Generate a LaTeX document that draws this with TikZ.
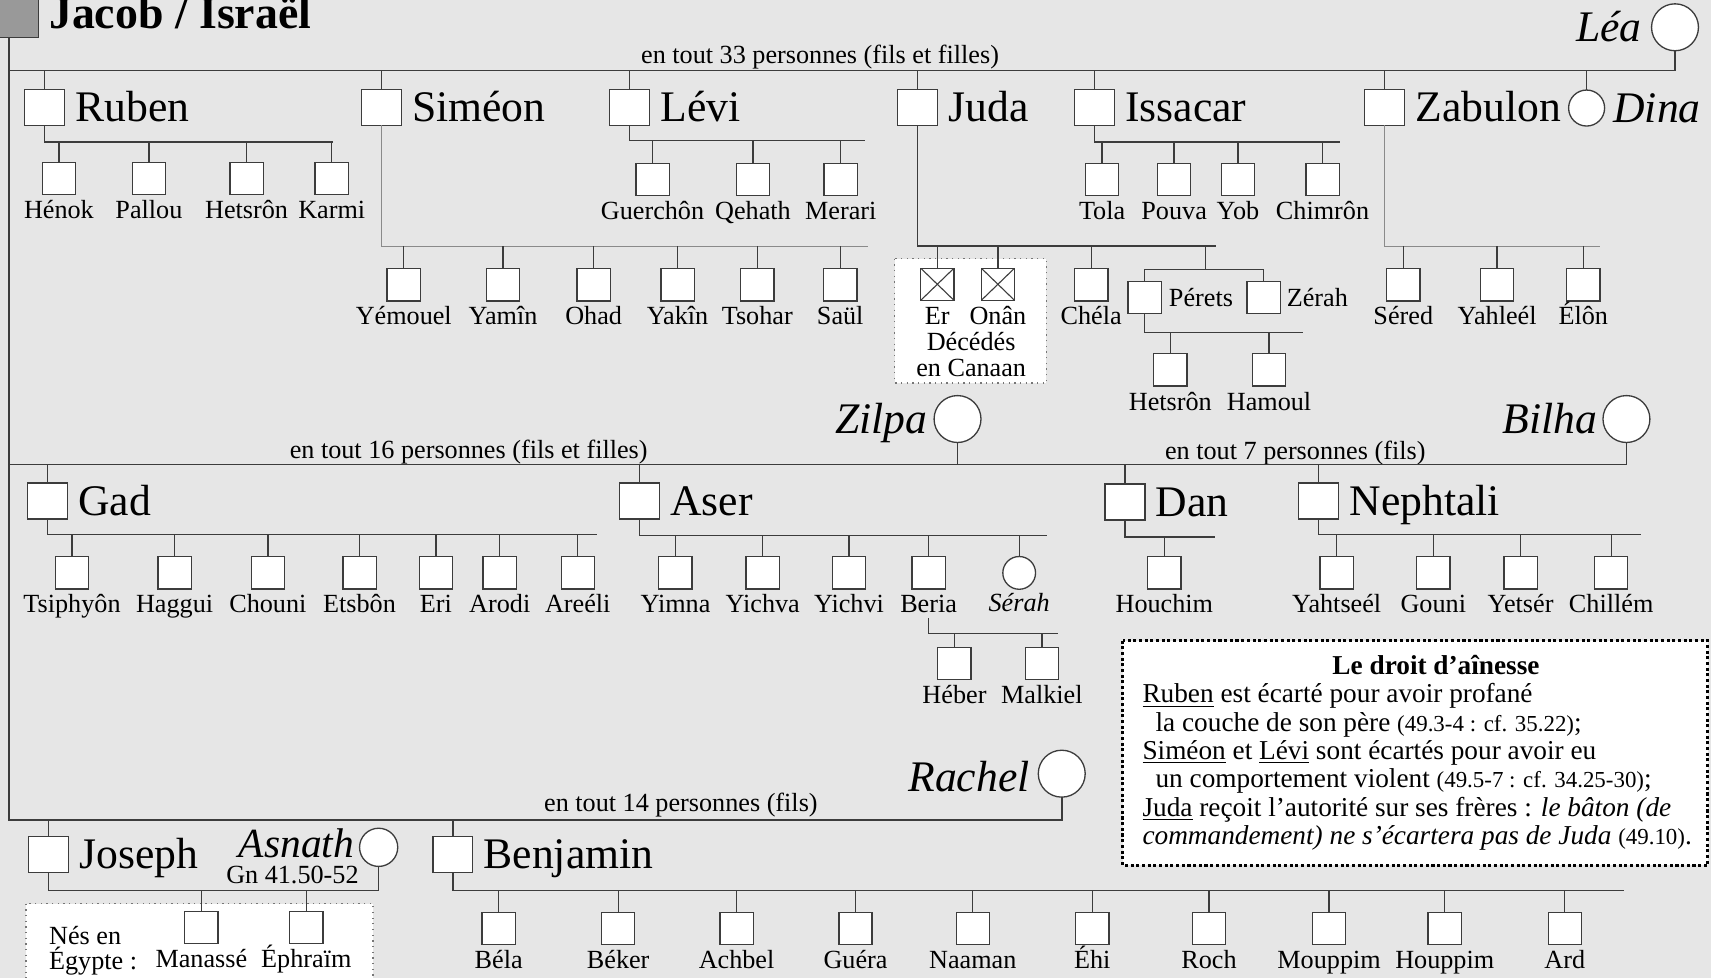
\documentclass[tikz,border=0pt]{standalone}
\usepackage{fontspec}
\setmainfont{Liberation Serif}
\usetikzlibrary{positioning}
\definecolor{paper}{RGB}{230,230,230}
\definecolor{wire} {RGB}{ 60, 60, 60}
\definecolor{head} {RGB}{153,153,153}
\newcommand\kidfont{\fontsize{12}{14}\selectfont}
\newcommand\gnref[1]{{\fontsize{10.5}{12}\selectfont #1}}

\begin{document}
\begin{tikzpicture}[x=0.5pt,y=-0.5pt,
    every node/.style={inner sep=0pt,outer sep=0pt},
    every label/.style={font=\kidfont,text height=9pt,text depth=2.5pt},
    son/.style={draw=wire,fill=white,line width=0.6pt,minimum width=18.25pt,minimum height=16.5pt},
    kid/.style={draw=wire,fill=white,line width=0.6pt,minimum width=15.25pt,minimum height=14.75pt},
    girl/.style={draw=wire,fill=white,line width=0.6pt,circle,minimum size=15pt},
    wife/.style={draw=wire,fill=white,line width=0.6pt,circle,minimum size=21.5pt},
    dead/.style={kid,path picture={\draw[wire,line width=0.5pt] (path picture bounding box.south west) -- (path picture bounding box.north east) (path picture bounding box.north west) -- (path picture bounding box.south east);}},
    big/.style={font=\fontsize{20}{24}\selectfont,text height=13.2pt,text depth=0pt},
    wname/.style={font=\fontsize{20}{24}\selectfont\itshape,text height=13.2pt,text depth=0pt},
    kl/.style={label={[yshift=-2pt]below:#1}},
    sl/.style={label={[big,xshift=5pt]right:#1}},
    count/.style={font=\kidfont,anchor=base},
    tie/.style={draw=wire,line width=0.6pt},
    faint/.style={draw=wire!60,line width=0.5pt},
    bus/.style={draw=wire,line width=0.75pt},
    frame/.style={draw=wire!70,fill=white,dotted,line width=0.6pt},
    notebox/.style={draw=black,fill=white,line width=1.4pt,dash pattern=on 1.4pt off 1.2pt},
    note/.style={font=\fontsize{12.5}{14}\selectfont,anchor=base west}]

    \useasboundingbox (0,0) rectangle (1568,896);
    \fill[paper] (0,0) rectangle (1568,896);

    % frames
    \draw[frame] (820,237) rectangle (959,351);
    \draw[frame] (23.7,828) rectangle (341.7,910);
    \draw[notebox] (1029,587) rectangle (1565,793);

    % Jacob
    \node[draw=wire,fill=head,line width=0.6pt,minimum width=19pt,minimum height=18.75pt] (jacob) at (16,15.75) {};
    \node[font=\fontsize{21}{24}\selectfont\bfseries,anchor=base west] (jacobname) at (45,26.5) {Jacob / Israël};
    \coordinate (r1) at (8,64.5);
    \coordinate (r2) at (8,425.5);
    \coordinate (r3) at (8,751.5);

    % Lea
    \node[wife,label={[wname,xshift=-4.5pt]left:Léa}] (lea) at (1535,25) {};
    \node[count] (cnt33) at (751.5,58) {en tout 33 personnes (fils et filles)};
    \node[son,sl=Ruben] (ruben) at (41,98.5) {};
    \node[son,sl=Siméon] (simeon) at (349.5,98.5) {};
    \node[son,sl=Lévi] (levi) at (577,98.5) {};
    \node[son,sl=Juda] (juda) at (841,98.5) {};
    \node[son,sl=Issacar] (issacar) at (1003,98.5) {};
    \node[son,sl=Zabulon] (zabulon) at (1269,98.5) {};
    \node[girl,minimum size=16.5pt,label={[wname,xshift=4pt]right:Dina}] (dina) at (1454,99) {};

    \node[kid,kl=Hénok] (henok) at (54,163.5) {};
    \node[kid,kl=Pallou] (pallou) at (136.5,163.5) {};
    \node[kid,kl=Hetsrôn] (hetsronR) at (226,163.5) {};
    \node[kid,kl=Karmi] (karmi) at (304,163.5) {};

    \node[kid,kl=Yémouel] (yemouel) at (370,261) {};
    \node[kid,kl=Yamîn] (yamin) at (461,261) {};
    \node[kid,kl=Ohad] (ohad) at (544,261) {};
    \node[kid,kl=Yakîn] (yakin) at (621,261) {};
    \node[kid,kl=Tsohar] (tsohar) at (694,261) {};
    \node[kid,kl=Saül] (saul) at (770,261) {};

    \node[kid,kl=Guerchôn] (guerchon) at (598,164.5) {};
    \node[kid,kl=Qehath] (qehath) at (690,164.5) {};
    \node[kid,kl=Merari] (merari) at (770.5,164.5) {};

    \node[dead,kl=Er] (er) at (859,260.5) {};
    \node[dead,kl=Onân] (onan) at (914.5,260.5) {};
    \node[anchor=base,font=\kidfont] (deceased) at (890,321) {Décédés};
    \node[anchor=base,font=\kidfont] (canaan) at (890,345) {en Canaan};
    \node[kid,kl=Chéla] (chela) at (1000,261) {};
    \node[kid,label={[xshift=3.5pt,yshift=-1pt]right:Pérets}] (perets) at (1049,272.5) {};
    \node[kid,label={[xshift=3pt,yshift=-1pt]right:Zérah}] (zerah) at (1158,272.5) {};
    \node[kid,kl=Hetsrôn] (hetsronP) at (1072.5,339) {};
    \node[kid,kl=Hamoul] (hamoul) at (1163,339) {};

    \node[kid,kl=Tola] (tola) at (1010,164.5) {};
    \node[kid,kl=Pouva] (pouva) at (1076,164.5) {};
    \node[kid,kl=Yob] (yob) at (1134.5,164.5) {};
    \node[kid,kl=Chimrôn] (chimron) at (1212,164.5) {};

    \node[kid,kl=Séred] (sered) at (1286,261) {};
    \node[kid,kl=Yahleél] (yahleel) at (1372,261) {};
    \node[kid,kl=Élôn] (elon) at (1451,261) {};

    % Zilpa and Bilha
    \node[wife,label={[wname,xshift=-3pt]left:Zilpa}] (zilpa) at (877.5,384) {};
    \node[wife,label={[wname,xshift=-2.5pt]left:Bilha}] (bilha) at (1490.5,384) {};
    \node[count] (cnt16) at (429.5,420) {en tout 16 personnes (fils et filles)};
    \node[count] (cnt7) at (1187,421) {en tout 7 personnes (fils)};
    \node[son,sl=Gad] (gad) at (43.5,459) {};
    \node[son,sl=Aser] (aser) at (586,459) {};
    \node[son,sl=Dan] (dan) at (1031,460) {};
    \node[son,sl=Nephtali] (nephtali) at (1208.5,459) {};

    \node[kid,kl=Tsiphyôn] (tsiphyon) at (66,525) {};
    \node[kid,kl=Haggui] (haggui) at (160,525) {};
    \node[kid,kl=Chouni] (chouni) at (245.5,525) {};
    \node[kid,kl=Etsbôn] (etsbon) at (329.5,525) {};
    \node[kid,kl=Eri] (eri) at (399.5,525) {};
    \node[kid,kl=Arodi] (arodi) at (458,525) {};
    \node[kid,kl=Areéli] (areeli) at (529.5,525) {};

    \node[kid,kl=Yimna] (yimna) at (619,525) {};
    \node[kid,kl=Yichva] (yichva) at (699,525) {};
    \node[kid,kl=Yichvi] (yichvi) at (778,525) {};
    \node[kid,label={[name=berianame,yshift=-2pt]below:Beria}] (beria) at (851,525) {};
    \node[girl,label={[font=\kidfont\itshape,yshift=-1pt]below:Sérah}] (serah) at (934,525) {};
    \node[kid,kl=Héber] (heber) at (874.7,608) {};
    \node[kid,kl=Malkiel] (malkiel) at (954.8,608) {};

    \node[kid,kl=Houchim] (houchim) at (1067,525) {};

    \node[kid,kl=Yahtseél] (yahtseel) at (1225,525) {};
    \node[kid,kl=Gouni] (gouni) at (1313.5,525) {};
    \node[kid,kl=Yetsér] (yetser) at (1393.5,525) {};
    \node[kid,kl=Chillém] (chillem) at (1476.5,525) {};

    % Rachel
    \node[wife,label={[wname,xshift=-4pt,yshift=-1.5pt]left:Rachel}] (rachel) at (973,709) {};
    \node[count] (cnt14) at (624,744) {en tout 14 personnes (fils)};
    \node[son,sl=Joseph] (joseph) at (44.6,783) {};
    \node[wife,minimum size=17.5pt,label={[wname,font=\fontsize{19}{22}\selectfont\itshape,xshift=-2.5pt,yshift=2pt]left:Asnath}] (asnath) at (347,776.5) {};
    \node[anchor=base,font=\kidfont] (gn) at (268,810) {Gn 41.50-52};
    \node[son,sl=Benjamin] (benjamin) at (415,783) {};

    \node[anchor=base west,font=\kidfont] (nes) at (45,865.5) {Nés en};
    \node[anchor=base west,font=\kidfont] (egypte) at (45,888.5) {Égypte :};
    \node[kid,kl=Manassé] (manasse) at (184.5,850) {};
    \node[kid,kl=Éphraïm] (ephraim) at (280.7,850) {};

    \node[kid,kl=Béla] (bela) at (457,851) {};
    \node[kid,kl=Béker] (beker) at (566.5,851) {};
    \node[kid,kl=Achbel] (achbel) at (675,851) {};
    \node[kid,kl=Guéra] (guera) at (784,851) {};
    \node[kid,kl=Naaman] (naaman) at (891.5,851) {};
    \node[kid,kl=Éhi] (ehi) at (1001,851) {};
    \node[kid,kl=Roch] (roch) at (1108,851) {};
    \node[kid,kl=Mouppim] (mouppim) at (1218,851) {};
    \node[kid,kl=Houppim] (houppim) at (1324,851) {};
    \node[kid,kl=Ard] (ard) at (1434,851) {};

    % note
    \node[note,font=\fontsize{12.5}{14}\selectfont\bfseries,anchor=base] (note0) at (1316,618) {Le droit d’aînesse};
    \node[note] (note1) at (1047,644) {\underline{Ruben} est écarté pour avoir profané};
    \node[note] (note2) at (1059,670) {la couche de son père \gnref{(49.3-4 : cf. 35.22)};};
    \node[note] (note3) at (1047,696) {\underline{Siméon} et \underline{Lévi} sont écartés pour avoir eu};
    \node[note] (note4) at (1059,722) {un comportement violent \gnref{(49.5-7 : cf. 34.25-30)};};
    \node[note] (note5) at (1047,748) {\underline{Juda} reçoit l’autorité sur ses frères : \textit{le bâton (de}};
    \node[note] (note6) at (1047,774) {\textit{commandement) ne s’écartera pas de Juda} \gnref{(49.10)}.};

    % main lines
    \draw[bus] (jacob.south -| r3) -- (r3) -- (rachel |- r3) -- (rachel);
    \draw[bus] (r1) -- (lea |- r1) -- (lea);
    \draw[bus] (r2) -- (bilha |- r2) -- (bilha);
    \draw[tie] (zilpa) -- (zilpa |- r2);

    \draw[tie] (ruben) -- (ruben |- r1);
    \draw[tie] (simeon) -- (simeon |- r1);
    \draw[tie] (levi) -- (levi |- r1);
    \draw[tie] (juda) -- (juda |- r1);
    \draw[tie] (issacar) -- (issacar |- r1);
    \draw[tie] (zabulon) -- (zabulon |- r1);
    \draw[tie] (dina) -- (dina |- r1);
    \draw[tie] (gad) -- (gad |- r2);
    \draw[tie] (aser) -- (aser |- r2);
    \draw[tie] (dan) -- (dan |- r2);
    \draw[tie] (nephtali) -- (nephtali |- r2);
    \draw[tie] (joseph) -- (joseph |- r3);
    \draw[tie] (benjamin) -- (benjamin |- r3);

    % Ruben
    \coordinate (rubenbar) at (305,130);
    \draw[tie] (ruben) |- (rubenbar);
    \draw[tie] (henok) -- (henok |- rubenbar);
    \draw[tie] (pallou) -- (pallou |- rubenbar);
    \draw[tie] (hetsronR) -- (hetsronR |- rubenbar);
    \draw[tie] (karmi) -- (karmi |- rubenbar);

    % Simeon
    \coordinate (simeonbar) at (795,225.5);
    \draw[faint] (simeon) |- (simeonbar);
    \draw[tie] (yemouel) -- (yemouel |- simeonbar);
    \draw[tie] (yamin) -- (yamin |- simeonbar);
    \draw[tie] (ohad) -- (ohad |- simeonbar);
    \draw[tie] (yakin) -- (yakin |- simeonbar);
    \draw[tie] (tsohar) -- (tsohar |- simeonbar);
    \draw[tie] (saul) -- (saul |- simeonbar);

    % Levi
    \coordinate (levibar) at (793,128.5);
    \draw[tie] (levi) |- (levibar);
    \draw[tie] (guerchon) -- (guerchon |- levibar);
    \draw[tie] (qehath) -- (qehath |- levibar);
    \draw[tie] (merari) -- (merari |- levibar);

    % Juda
    \coordinate (judabar) at (1114,225.5);
    \coordinate (pz) at (1105,247);
    \coordinate (peretsbar) at (1194,305);
    \draw[tie] (juda) |- (judabar);
    \draw[tie] (er) -- (er |- judabar);
    \draw[tie] (onan) -- (onan |- judabar);
    \draw[tie] (chela) -- (chela |- judabar);
    \draw[tie] (pz) -- (pz |- judabar);
    \draw[tie] (perets) |- (pz) -| (zerah);
    \draw[tie] (perets) |- (peretsbar);
    \draw[tie] (hetsronP) -- (hetsronP |- peretsbar);
    \draw[tie] (hamoul) -- (hamoul |- peretsbar);

    % Issacar
    \coordinate (issacarbar) at (1228,130);
    \draw[tie] (issacar) |- (issacarbar);
    \draw[tie] (tola) -- (tola |- issacarbar);
    \draw[tie] (pouva) -- (pouva |- issacarbar);
    \draw[tie] (yob) -- (yob |- issacarbar);
    \draw[tie] (chimron) -- (chimron |- issacarbar);

    % Zabulon
    \coordinate (zabulonbar) at (1466.5,225.5);
    \draw[faint] (zabulon) |- (zabulonbar);
    \draw[tie] (sered) -- (sered |- zabulonbar);
    \draw[tie] (yahleel) -- (yahleel |- zabulonbar);
    \draw[tie] (elon) -- (elon |- zabulonbar);

    % Gad
    \coordinate (gadbar) at (547,490);
    \draw[tie] (gad) |- (gadbar);
    \draw[tie] (tsiphyon) -- (tsiphyon |- gadbar);
    \draw[tie] (haggui) -- (haggui |- gadbar);
    \draw[tie] (chouni) -- (chouni |- gadbar);
    \draw[tie] (etsbon) -- (etsbon |- gadbar);
    \draw[tie] (eri) -- (eri |- gadbar);
    \draw[tie] (arodi) -- (arodi |- gadbar);
    \draw[tie] (areeli) -- (areeli |- gadbar);

    % Aser
    \coordinate (aserbar) at (959.5,491);
    \coordinate (beriabar) at (969.5,580.5);
    \draw[tie] (aser) |- (aserbar);
    \draw[tie] (yimna) -- (yimna |- aserbar);
    \draw[tie] (yichva) -- (yichva |- aserbar);
    \draw[tie] (yichvi) -- (yichvi |- aserbar);
    \draw[tie] (beria) -- (beria |- aserbar);
    \draw[tie] (serah) -- (serah |- aserbar);
    \draw[tie] (berianame) |- (beriabar);
    \draw[tie] (heber) -- (heber |- beriabar);
    \draw[tie] (malkiel) -- (malkiel |- beriabar);

    % Dan and Nephtali
    \coordinate (danbar) at (1113.5,492);
    \draw[tie] (dan) |- (danbar);
    \draw[tie] (houchim) -- (houchim |- danbar);
    \coordinate (nephtalibar) at (1504,490);
    \draw[tie] (nephtali) |- (nephtalibar);
    \draw[tie] (yahtseel) -- (yahtseel |- nephtalibar);
    \draw[tie] (gouni) -- (gouni |- nephtalibar);
    \draw[tie] (yetser) -- (yetser |- nephtalibar);
    \draw[tie] (chillem) -- (chillem |- nephtalibar);

    % Joseph and Benjamin
    \coordinate (josephbar) at (347,816);
    \draw[tie] (joseph) |- (josephbar) -- (asnath);
    \draw[tie] (manasse) -- (manasse |- josephbar);
    \draw[tie] (ephraim) -- (ephraim |- josephbar);
    \coordinate (benjaminbar) at (1488,816);
    \draw[tie] (benjamin) |- (benjaminbar);
    \draw[tie] (bela) -- (bela |- benjaminbar);
    \draw[tie] (beker) -- (beker |- benjaminbar);
    \draw[tie] (achbel) -- (achbel |- benjaminbar);
    \draw[tie] (guera) -- (guera |- benjaminbar);
    \draw[tie] (naaman) -- (naaman |- benjaminbar);
    \draw[tie] (ehi) -- (ehi |- benjaminbar);
    \draw[tie] (roch) -- (roch |- benjaminbar);
    \draw[tie] (mouppim) -- (mouppim |- benjaminbar);
    \draw[tie] (houppim) -- (houppim |- benjaminbar);
    \draw[tie] (ard) -- (ard |- benjaminbar);

\end{tikzpicture}
\end{document}
